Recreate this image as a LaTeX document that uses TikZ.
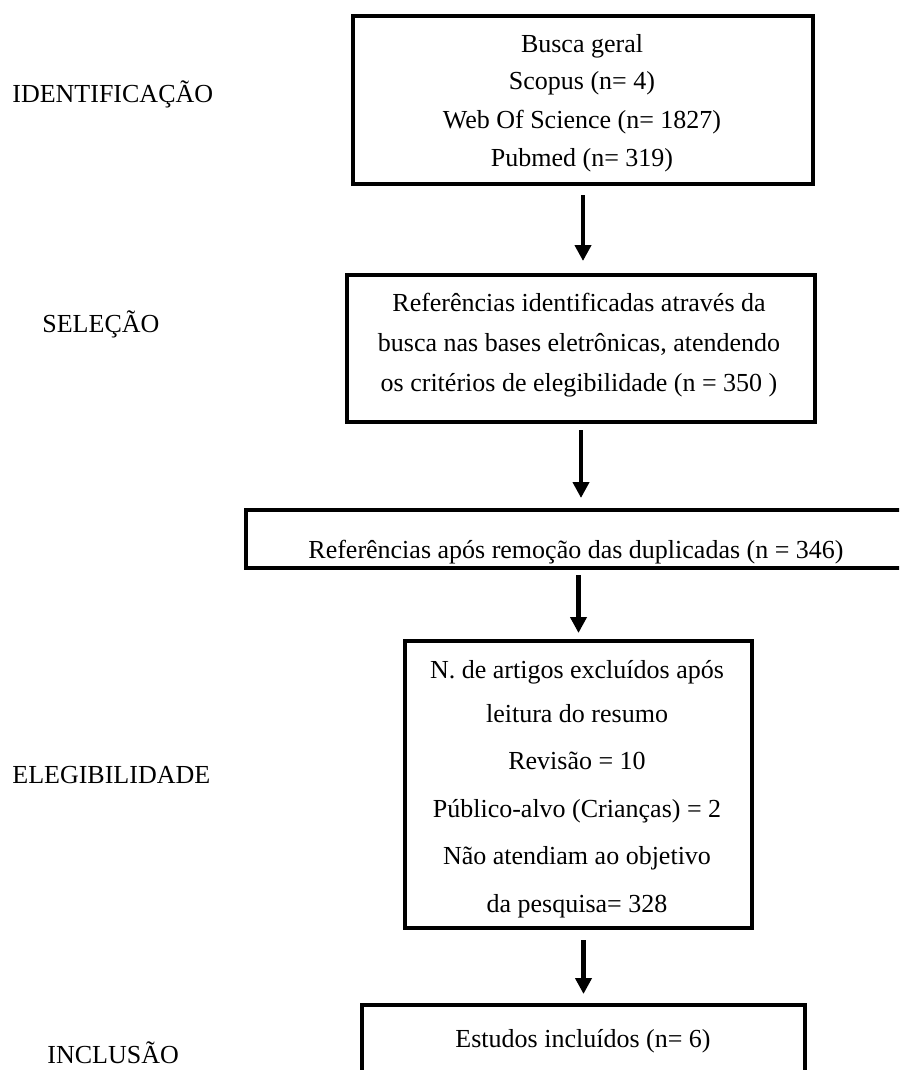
\documentclass[tikz,border=0pt]{standalone}
\usepackage{fontspec}
\setmainfont{Liberation Serif}
\usetikzlibrary{arrows.meta}
\begin{document}
\begin{tikzpicture}[x=0.5pt,y=-0.5pt,
  box/.style={draw=black, line width=2pt, inner sep=0pt},
  txt/.style={anchor=base, inner sep=0pt, font=\fontsize{13}{15}\selectfont},
  lbl/.style={anchor=base west, inner sep=0pt, font=\fontsize{13}{15}\selectfont},
  arr/.style={line width=2.3pt, -{Triangle[width=8pt,length=8pt]}}]
\useasboundingbox (0,0) rectangle (899,1070);
\clip (0,0) rectangle (899,1070);
% boxes
\node[box, minimum width=230pt, minimum height=84pt] (b1) at (583,100) {};
\node[box, minimum width=234pt, minimum height=73.5pt] (b2) at (581,348.5) {};
\node[box, minimum width=330pt, minimum height=29.25pt] (b3) at (576,538.75) {};
\node[box, minimum width=173.5pt, minimum height=143.75pt] (b4) at (578.5,784.25) {};
\node[box, minimum width=221.5pt, minimum height=47.5pt] (b5) at (583.5,1052.5) {};
% arrows
\draw[arr, shorten <=4.5pt, shorten >=6pt] (b1.south) -- (b1.south |- b2.north);
\draw[arr, shorten <=3pt, shorten >=4.75pt] (b2.south) -- (b2.south |- b3.north);
\draw[arr, shorten <=2.5pt, shorten >=2.75pt] (b4.north |- b3.south) -- (b4.north);
\draw[arr, shorten <=5pt, shorten >=4.5pt] (b5.north |- b4.south) -- (b5.north);
% box 1 text
\node[txt] (t1a) at (582,53) {Busca geral};
\node[txt] (t1b) at (582,90) {Scopus (n= 4)};
\node[txt] (t1c) at (582,128) {Web Of Science (n= 1827)};
\node[txt] (t1d) at (582,166) {Pubmed (n= 319)};
% box 2 text
\node[txt] (t2a) at (579,311) {Referências identificadas através da};
\node[txt] (t2b) at (579,351) {busca nas bases eletrônicas, atendendo};
\node[txt] (t2c) at (579,391) {os critérios de elegibilidade (n = 350 )};
% box 3 text
\node[txt] (t3a) at (576,558) {Referências após remoção das duplicadas (n = 346)};
% box 4 text
\node[txt] (t4a) at (577,678) {N. de artigos excluídos após};
\node[txt] (t4b) at (577,722) {leitura do resumo};
\node[txt] (t4c) at (577,769) {Revisão = 10};
\node[txt] (t4d) at (577,817) {Público-alvo (Crianças) = 2};
\node[txt] (t4e) at (577,864) {Não atendiam ao objetivo};
\node[txt] (t4f) at (577,912) {da pesquisa= 328};
% box 5 text
\node[txt] (t5a) at (583,1047) {Estudos incluídos (n= 6)};
% stage labels
\node[lbl] (l1) at (12,103) {IDENTIFICAÇÃO};
\node[lbl] (l2) at (42,332) {SELEÇÃO};
\node[lbl] (l3) at (12,783) {ELEGIBILIDADE};
\node[lbl] (l4) at (47,1063) {INCLUSÃO};
\end{tikzpicture}
\end{document}
